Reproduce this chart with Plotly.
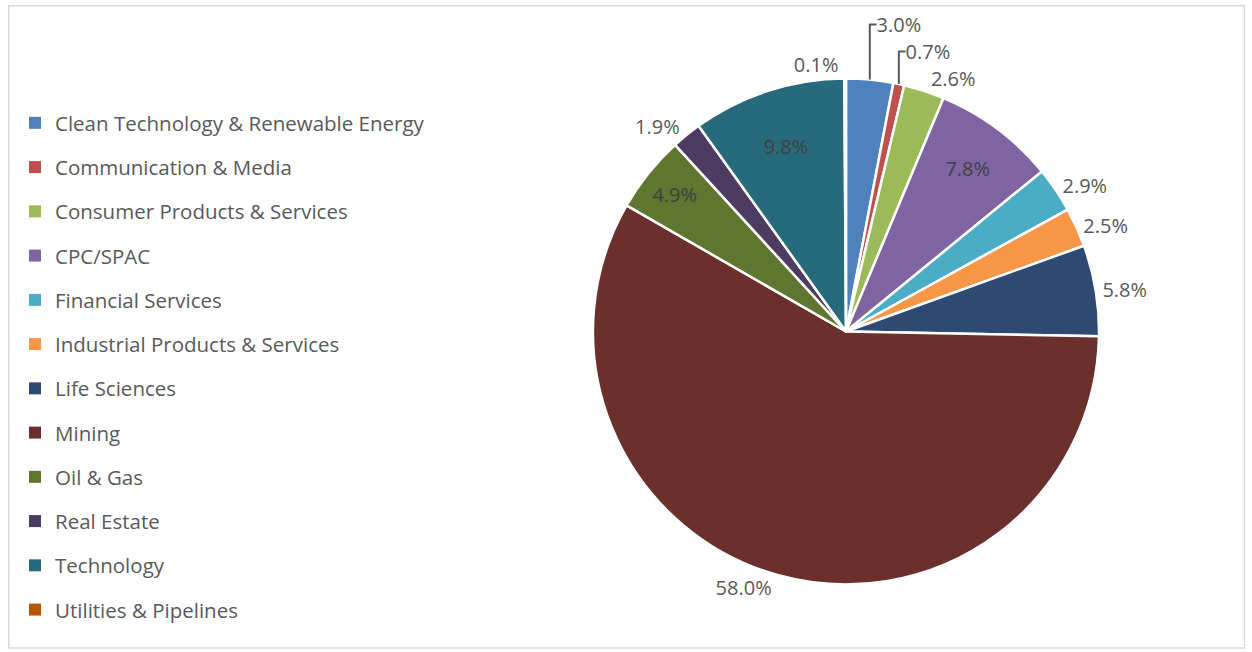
import plotly.graph_objects as go

# Share of listings by sector (%)
sectors = [
    "Clean Technology & Renewable Energy",
    "Communication & Media",
    "Consumer Products & Services",
    "CPC/SPAC",
    "Financial Services",
    "Industrial Products & Services",
    "Life Sciences",
    "Mining",
    "Oil & Gas",
    "Real Estate",
    "Technology",
    "Utilities & Pipelines",
]
shares = [3.0, 0.7, 2.6, 7.8, 2.9, 2.5, 5.8, 58.0, 4.9, 1.9, 9.8, 0.1]
colors = [
    "#4F81BD", "#C0504D", "#9BBB59", "#8064A2", "#4BACC6", "#F79646",
    "#2E4A72", "#6B2F2C", "#5F7530", "#4D3B62", "#276A7C", "#B65708",
]
label_pos = [
    "outside", "outside", "outside", "inside", "outside", "outside",
    "outside", "outside", "inside", "outside", "inside", "outside",
]

FONT = "Open Sans"
TEXT_GRAY = "#595959"

fig = go.Figure()

fig.add_trace(go.Pie(
    labels=sectors,
    values=shares,
    sort=False,
    direction="clockwise",
    rotation=0,
    marker=dict(colors=colors, line=dict(color="white", width=2.5)),
    texttemplate="%{value:.1f}%",
    textposition=label_pos,
    insidetextorientation="horizontal",
    outsidetextfont=dict(family=FONT, size=20, color=TEXT_GRAY),
    insidetextfont=dict(family=FONT, size=20, color="#404040"),
    domain=dict(x=[0.4736, 0.8778], y=[0.1028, 0.8804]),
    showlegend=False,
    hoverinfo="label+percent",
))

# Legend entries drawn as square markers, one group per sector for spacing
for name, col in zip(sectors, colors):
    fig.add_trace(go.Scatter(
        x=[None], y=[None], mode="markers", name=name,
        marker=dict(symbol="square", size=8, color=col),
        legendgroup=name, showlegend=True,
    ))

fig.update_layout(
    width=1252, height=652,
    margin=dict(l=0, r=0, t=0, b=0),
    paper_bgcolor="white",
    plot_bgcolor="white",
    font=dict(family=FONT, color=TEXT_GRAY),
    xaxis=dict(visible=False),
    yaxis=dict(visible=False),
    legend=dict(
        x=0.012, y=0.842, xanchor="left", yanchor="top",
        font=dict(family=FONT, size=20.5, color=TEXT_GRAY),
        tracegroupgap=14.6,
        itemsizing="constant",
        bgcolor="rgba(0,0,0,0)",
    ),
    shapes=[dict(
        type="rect", xref="paper", yref="paper",
        x0=0.007, x1=0.994, y0=0.006, y1=0.991,
        line=dict(color="#D9D9D9", width=1.5),
        fillcolor="rgba(0,0,0,0)", layer="below",
    )],
)

fig.write_html("out.html")
